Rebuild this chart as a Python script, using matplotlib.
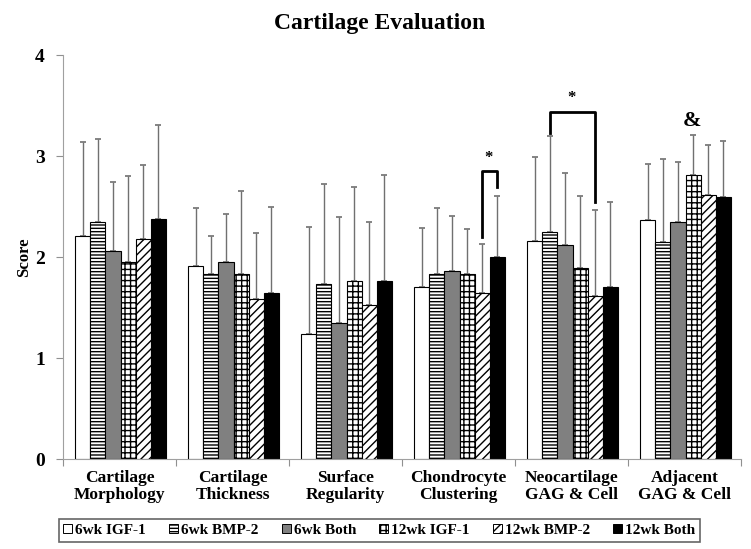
import matplotlib
matplotlib.use("Agg")
import matplotlib.pyplot as plt
from matplotlib.patches import Patch
import numpy as np

# categories and series (means and upper error limits)
categories = ["Cartilage\nMorphology", "Cartilage\nThickness", "Surface\nRegularity",
              "Chondrocyte\nClustering", "Neocartilage\nGAG & Cell", "Adjacent\nGAG & Cell"]
series_names = ["6wk IGF-1", "6wk BMP-2", "6wk Both", "12wk IGF-1", "12wk BMP-2", "12wk Both"]

igf1_6 = [2.21, 1.91, 1.24, 1.70, 2.16, 2.37]
bmp2_6 = [2.35, 1.83, 1.73, 1.83, 2.25, 2.15]
both_6 = [2.06, 1.95, 1.35, 1.86, 2.12, 2.35]
igf1_12 = [1.95, 1.83, 1.76, 1.83, 1.89, 2.81]
bmp2_12 = [2.18, 1.58, 1.52, 1.64, 1.61, 2.61]
both_12 = [2.38, 1.64, 1.76, 2.00, 1.70, 2.59]

igf1_6_top = [3.14, 2.49, 2.30, 2.29, 2.99, 2.92]
bmp2_6_top = [3.17, 2.21, 2.72, 2.49, 3.20, 2.97]
both_6_top = [2.74, 2.43, 2.40, 2.41, 2.83, 2.94]
igf1_12_top = [2.80, 2.65, 2.69, 2.28, 2.60, 3.21]
bmp2_12_top = [2.91, 2.24, 2.35, 2.13, 2.47, 3.11]
both_12_top = [3.31, 2.50, 2.81, 2.60, 2.54, 3.15]

means = [igf1_6, bmp2_6, both_6, igf1_12, bmp2_12, both_12]
tops = [igf1_6_top, bmp2_6_top, both_6_top, igf1_12_top, bmp2_12_top, both_12_top]

faces = ["white", "white", "#808080", "white", "white", "black"]
hatches = [None, "-----", None, "+++", "////", None]

plt.rcParams["font.family"] = ["Liberation Serif", "DejaVu Serif"]
plt.rcParams["font.weight"] = "bold"
plt.rcParams["hatch.linewidth"] = 1.0

fig = plt.figure(figsize=(7.51, 5.49), dpi=100)
ax = fig.add_axes([0.0839, 0.1639, 0.9027, 0.7359])

x = np.arange(len(categories)) + 0.5
w = 0.134
for j in range(6):
    xs = x + (j - 2.5) * w + 0.01
    m = np.array(means[j])
    up = np.array(tops[j]) - m
    ax.bar(xs, m, w, color=faces[j], edgecolor="black", linewidth=0.8,
           hatch=hatches[j], zorder=2)
    ax.errorbar(xs, m, yerr=[np.zeros_like(m), up], fmt="none", ecolor="#707070",
                elinewidth=1.0, capsize=2.5, capthick=1.2, zorder=1)


# significance brackets
def bracket(x0, x1, ytop, yl, yr, label, lx, ly, size):
    ax.plot([x0, x0, x1, x1], [yl, ytop, ytop, yr], color="black", lw=2, zorder=3)
    ax.text(lx, ly, label, ha="center", va="center", fontsize=size)


ci = 3
bracket(x[ci] + 1.5 * w + 0.01, x[ci] + 2.5 * w + 0.01, 2.85, 2.20, 2.69, "*",
        x[ci] + 2.0 * w, 2.98, 12)
ci = 4
bracket(x[ci] - 1.5 * w + 0.01, x[ci] + 1.5 * w + 0.01, 3.44, 3.23, 2.54, "*",
        x[ci], 3.57, 12)
ax.text(x[5] + 0.5 * w, 3.35, "&", ha="center", va="center", fontsize=16)

ax.set_xlim(0, 6)
ax.set_ylim(0, 4)
ax.set_yticks([0, 1, 2, 3, 4])
ax.set_xticks(np.arange(7))
ax.set_xticklabels([])
ax.set_xticks(x, minor=True)
ax.set_xticklabels(categories, minor=True, fontsize=12.5, fontweight="bold",
                   linespacing=1.1)
ax.tick_params(axis="x", which="minor", length=0, pad=8)
ax.tick_params(axis="x", which="major", length=5, color="#909090", direction="out")
ax.tick_params(axis="y", length=5, color="#909090", labelsize=14, pad=8)
for lab in ax.get_yticklabels():
    lab.set_fontweight("bold")
for s in ["top", "right"]:
    ax.spines[s].set_visible(False)
for s in ["left", "bottom"]:
    ax.spines[s].set_color("#a0a0a0")
ax.set_ylabel("Score", fontsize=12, fontweight="bold", labelpad=2)

fig.text(0.505, 0.957, "Cartilage Evaluation", ha="center", va="center",
         fontsize=17, fontweight="bold")

handles = [Patch(facecolor=faces[j], edgecolor="black", hatch=hatches[j], linewidth=0.7)
           for j in range(6)]
leg = fig.legend(handles, series_names, loc="center", bbox_to_anchor=(0.505, 0.034),
                 ncol=6, frameon=True, fancybox=False, edgecolor="#404040",
                 fontsize=11, handlelength=0.6, handleheight=0.6, handletextpad=0.2,
                 columnspacing=1.5, borderpad=0.3)
leg.get_frame().set_linewidth(1.2)

fig.savefig("out.png", dpi=100)
